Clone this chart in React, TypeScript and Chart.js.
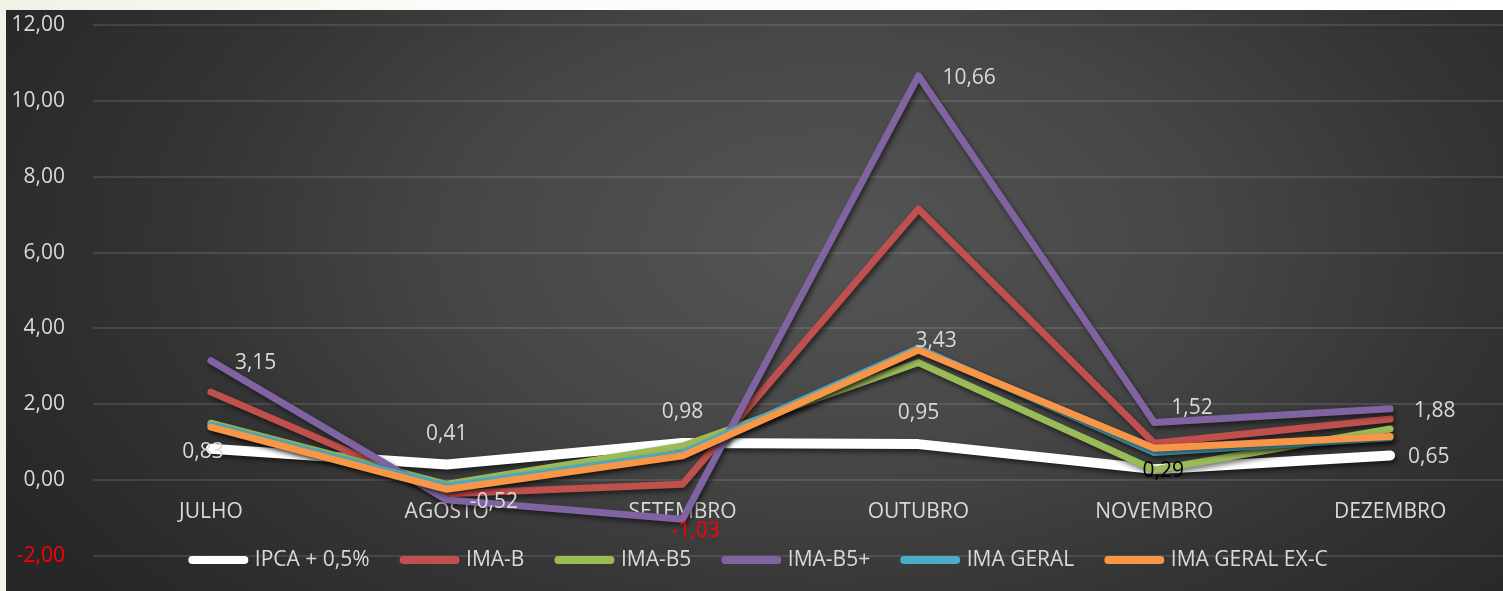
import React, { useEffect, useRef } from 'react';
import { Chart, registerables } from 'chart.js';

Chart.register(...registerables);

// ---------- data ----------
const months = ['JULHO', 'AGOSTO', 'SETEMBRO', 'OUTUBRO', 'NOVEMBRO', 'DEZEMBRO'];
const ipca = [0.83, 0.41, 0.98, 0.95, 0.29, 0.65];
const imaB = [2.32, -0.36, -0.11, 7.15, 0.97, 1.61];
const imaB5 = [1.5, -0.11, 0.9, 3.1, 0.27, 1.35];
const imaB5Plus = [3.15, -0.52, -1.03, 10.66, 1.52, 1.88];
const imaGeral = [1.45, -0.16, 0.71, 3.48, 0.73, 1.12];
const imaGeralExC = [1.4, -0.24, 0.64, 3.43, 0.84, 1.15];
const seriesNames = ['IPCA + 0,5%', 'IMA-B', 'IMA-B5', 'IMA-B5+', 'IMA GERAL', 'IMA GERAL EX-C'];
const yTickValues = [-2, 0, 2, 4, 6, 8, 10, 12];

// ---------- styles ----------
const FONT = '"Open Sans", sans-serif';
const TEXT = '#d9d9d9';
const colors = ['#ffffff', '#c0504d', '#9bbb59', '#8064a2', '#4bacc6', '#f79646'];
const widths = [10, 7, 7, 7, 7, 7];

type LabelStyle = { dx: number; dy: number; align: CanvasTextAlign; color?: string } | null;
const ipcaLabelStyle: LabelStyle[] = [
  { dx: -8, dy: 3, align: 'center' },
  { dx: 0, dy: -31, align: 'center' },
  { dx: 0, dy: -31, align: 'center' },
  { dx: 0, dy: -31, align: 'center' },
  { dx: 9, dy: 2, align: 'center', color: '#000000' },
  { dx: 18, dy: 2, align: 'left' },
];
const b5PlusLabelStyle: LabelStyle[] = [
  { dx: 24, dy: 2, align: 'left' },
  { dx: 23, dy: 2, align: 'left' },
  { dx: 13, dy: 12, align: 'center', color: '#ff0000' },
  { dx: 24, dy: 2, align: 'left' },
  { dx: 17, dy: -14, align: 'left' },
  { dx: 24, dy: 2, align: 'left' },
];
const exCLabelStyle: LabelStyle[] = [null, null, null, { dx: -3, dy: -9, align: 'left' }, null, null];
const labelSets = [
  { ds: 0, styles: ipcaLabelStyle },
  { ds: 3, styles: b5PlusLabelStyle },
  { ds: 5, styles: exCLabelStyle },
];

const fmt = (v: number) => v.toFixed(2).replace('.', ',');

export default function App() {
  const ref = useRef<HTMLCanvasElement>(null);

  useEffect(() => {
    document.body.style.margin = '0';
    document.body.style.overflow = 'hidden';
    const canvas = ref.current;
    if (!canvas) return;

    const shadowPlugin = {
      id: 'lineShadow',
      beforeDatasetDraw(chart: any) {
        const c = chart.ctx;
        c.save();
        c.shadowColor = 'rgba(0,0,0,0.55)';
        c.shadowBlur = 5;
        c.shadowOffsetX = 2;
        c.shadowOffsetY = 3;
      },
      afterDatasetDraw(chart: any) {
        chart.ctx.restore();
      },
    };

    const labelPlugin = {
      id: 'pointLabels',
      afterDatasetsDraw(chart: any) {
        const c = chart.ctx;
        c.save();
        c.font = `21px ${FONT}`;
        c.textBaseline = 'middle';
        labelSets.forEach(({ ds, styles }) => {
          const meta = chart.getDatasetMeta(ds);
          const values = chart.data.datasets[ds].data as number[];
          styles.forEach((st, i) => {
            if (!st) return;
            const pt = meta.data[i];
            c.fillStyle = st.color || TEXT;
            c.textAlign = st.align;
            c.fillText(fmt(values[i]), pt.x + st.dx, pt.y + st.dy);
          });
        });
        c.restore();
      },
    };

    const legendShift = {
      id: 'legendShift',
      afterLayout(chart: any) {
        const lg = chart.legend;
        if (!lg) return;
        const target = 560 - 34 - 10.5;
        const dy = target - lg.top;
        lg.top += dy;
        lg.bottom += dy;
        lg.left += 6;
        lg.right += 6;
      },
    };

    const allData = [ipca, imaB, imaB5, imaB5Plus, imaGeral, imaGeralExC];

    const chart = new Chart(canvas, {
      type: 'line',
      data: {
        labels: months,
        datasets: allData.map((d, i) => ({
          label: seriesNames[i],
          data: d,
          borderColor: colors[i],
          backgroundColor: colors[i],
          borderWidth: widths[i],
          borderCapStyle: 'round',
          borderJoinStyle: 'round',
          pointRadius: 0,
          pointHoverRadius: 0,
          tension: 0,
          fill: false,
          order: 6 - i,
        })),
      },
      options: {
        responsive: false,
        animation: false,
        events: [],
        layout: { padding: { top: 25, right: 4, left: 0, bottom: 0 } },
        plugins: {
          tooltip: { enabled: false },
          legend: {
            position: 'bottom',
            labels: {
              usePointStyle: true,
              pointStyleWidth: 52,
              padding: 34,
              color: TEXT,
              font: { family: FONT, size: 21 },
              sort: (a: any, b: any) => a.datasetIndex - b.datasetIndex,
              generateLabels: (ch: any) =>
                ch.data.datasets.map((d: any, i: number) => ({
                  text: d.label,
                  datasetIndex: i,
                  pointStyle: 'line',
                  lineWidth: 8,
                  lineCap: 'round',
                  strokeStyle: d.borderColor,
                  fillStyle: d.borderColor,
                  fontColor: TEXT,
                  hidden: false,
                })),
            },
          },
        },
        scales: {
          x: {
            type: 'category',
            offset: true,
            position: { y: 0 } as any,
            grid: { display: false, drawTicks: false },
            border: { display: false },
            ticks: {
              color: TEXT,
              font: { family: FONT, size: 21 },
              padding: 19,
              maxRotation: 0,
              autoSkip: false,
            },
          },
          y: {
            min: -2,
            max: 12,
            afterBuildTicks: (scale: any) => {
              scale.ticks = yTickValues.map((v) => ({ value: v }));
            },
            afterFit: (scale: any) => {
              scale.width = 93;
              scale.paddingTop = 0;
              scale.paddingBottom = 0;
            },
            grid: { color: 'rgba(255,255,255,0.11)', lineWidth: 2, drawTicks: false },
            border: { display: false },
            ticks: {
              padding: 28,
              font: { family: FONT, size: 21 },
              color: (ctx: any) => (ctx.tick && ctx.tick.value < 0 ? '#ff0000' : TEXT),
              callback: (v: any) => fmt(Number(v)),
            },
          },
        },
      },
      plugins: [shadowPlugin, labelPlugin, legendShift],
    } as any);

    return () => chart.destroy();
  }, []);

  return (
    <div
      style={{
        position: 'relative',
        width: 1503,
        height: 591,
        overflow: 'hidden',
        background: 'linear-gradient(to right, #eef3e6, #fbfcf9 30%, #ffffff)',
      }}
    >
      <div
        style={{
          position: 'absolute',
          left: 6,
          top: 10,
          right: 0,
          bottom: 0,
          background:
            'radial-gradient(ellipse 62% 95% at 55% 40%, #555555 0%, #464646 40%, #343434 70%, #272727 100%)',
        }}
      />
      <canvas
        ref={ref}
        width={1512}
        height={621}
        style={{ position: 'absolute', left: 0, top: 0, display: 'block' }}
      />
    </div>
  );
}
